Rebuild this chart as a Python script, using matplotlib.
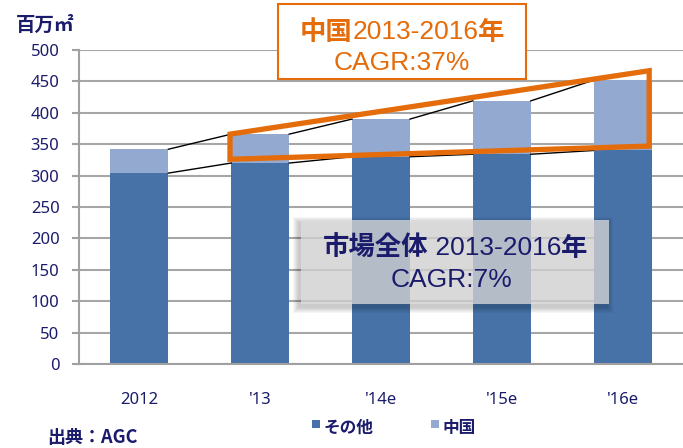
import matplotlib
matplotlib.use('Agg')
import matplotlib.pyplot as plt
from matplotlib.patches import Rectangle, Polygon

# data (百万㎡)
years = ['2012', "'13", "'14e", "'15e", "'16e"]
others = [304, 320, 330, 334, 340]
china_total = [342, 366, 390, 419, 452]
china = [t - o for t, o in zip(china_total, others)]

W, H = 683, 448
dark_blue = '#4672A8'
light_blue = '#94A9CF'
navy = '#1B1B6B'
orange = '#E46C0A'
cjk = ['Noto Sans CJK JP', 'DejaVu Sans']
latin = ['Liberation Sans', 'Noto Sans CJK JP']


def px(x, y):
    # pixel position (from top left) -> figure fraction
    return x / W, 1 - y / H


def text_row(xc, y, pieces, **kw):
    # pieces of text with own font settings, laid side by side, centred on xc
    renderer = fig.canvas.get_renderer()
    objs = []
    widths = []
    for s, extra in pieces:
        t = fig.text(0, 0, s, va='center', ha='left', **kw, **extra)
        widths.append(t.get_window_extent(renderer).width)
        objs.append(t)
    left = xc - sum(widths) / 2
    for t, w in zip(objs, widths):
        t.set_position(px(left, y))
        left += w


fig = plt.figure(figsize=(W / 100, H / 100), dpi=100)
ax = fig.add_axes([79 / W, 1 - 364 / H, (683 - 79) / W, (364 - 50) / H])

x = list(range(len(years)))
bw = 0.48
ax.bar(x, others, bw, color=dark_blue, zorder=2)
ax.bar(x, china, bw, bottom=others, color=light_blue, zorder=2)

# series lines between bars
for i in range(len(years) - 1):
    for lev in (others, china_total):
        ax.plot([i + bw / 2, i + 1 - bw / 2], [lev[i], lev[i + 1]],
                color='black', lw=1, zorder=3)

ax.set_xlim(-0.5, 4.5)
ax.set_ylim(0, 500)
ax.set_yticks(range(0, 501, 50))
ax.set_xticks(x)
ax.set_xticklabels(years)
ax.yaxis.grid(True, color='#A6A6A6', lw=1.5, zorder=0)
ax.set_axisbelow(True)
for s in ['top', 'right']:
    ax.spines[s].set_visible(False)
for s in ['left', 'bottom']:
    ax.spines[s].set_color('#A0A0A0')
    ax.spines[s].set_linewidth(1.5)
ax.tick_params(axis='y', length=5, width=1.5, color='#A0A0A0', pad=9,
               labelsize=12, labelcolor=navy)
ax.tick_params(axis='x', length=0, pad=20, labelsize=12, labelcolor=navy)
for lab in ax.get_yticklabels() + ax.get_xticklabels():
    lab.set_family(['Noto Sans', 'DejaVu Sans'])

# orange quadrilateral around China part
quad = Polygon([(0.75, 366), (4.22, 467), (4.22, 347), (0.75, 326)],
               closed=True, fill=False, edgecolor=orange, lw=3.8,
               joinstyle='miter', zorder=5)
ax.add_patch(quad)

bold_cjk = dict(family=cjk, fontweight='bold')
plain = dict(family=latin)

# China CAGR box
x0, y0 = px(278, 79)
x1, y1 = px(526, 4)
fig.patches.append(Rectangle((x0, y0), x1 - x0, y1 - y0, transform=fig.transFigure,
                             facecolor='white', edgecolor=orange, lw=1.5, zorder=6))
text_row(402, 32, [('中国', bold_cjk), ('2013-2016', plain), ('年', bold_cjk)],
         fontsize=19, color=orange, zorder=7)
fig.text(*px(402, 63), 'CAGR:37%', ha='center', va='center', fontsize=19,
         color=orange, family=latin, zorder=7)

# whole market CAGR box with soft shadow
bx0, by0 = px(301, 304)
bx1, by1 = px(609, 220)
for k in range(6, 0, -1):
    dx, dy = k / W, k / H
    fig.patches.append(Rectangle((bx0 - dx - 2 / W, by0 - dy - 3 / H),
                                 bx1 - bx0 + 2 * dx, by1 - by0 + 2 * dy,
                                 transform=fig.transFigure, facecolor='black',
                                 edgecolor='none', alpha=0.035, zorder=6))
fig.patches.append(Rectangle((bx0, by0), bx1 - bx0, by1 - by0, transform=fig.transFigure,
                             facecolor='#DEDEDE', edgecolor='none', alpha=0.75, zorder=6))
text_row(455, 248, [('市場全体', bold_cjk), (' 2013-2016', plain), ('年', bold_cjk)],
         fontsize=19, color=navy, zorder=7)
fig.text(*px(452, 280), 'CAGR:7%', ha='center', va='center', fontsize=19,
         color=navy, family=latin, zorder=7)

# unit label and source
fig.text(*px(16, 25), '百万㎡', ha='left', va='center', fontsize=14,
         fontweight='bold', color=navy, family=cjk)
fig.text(*px(47, 437), '出典：AGC', ha='left', va='center', fontsize=13,
         fontweight='bold', color=navy, family=cjk)

# legend
for sx, col, name in [(312, dark_blue, 'その他'), (431, light_blue, '中国')]:
    lx, ly = px(sx, 428)
    fig.patches.append(Rectangle((lx, ly), 8 / W, 8 / H, transform=fig.transFigure,
                                 facecolor=col, edgecolor='none'))
    fig.text(*px(sx + 12, 428), name, ha='left', va='center', fontsize=12,
             fontweight='bold', color=navy, family=cjk)

fig.savefig('out.png', dpi=100)
